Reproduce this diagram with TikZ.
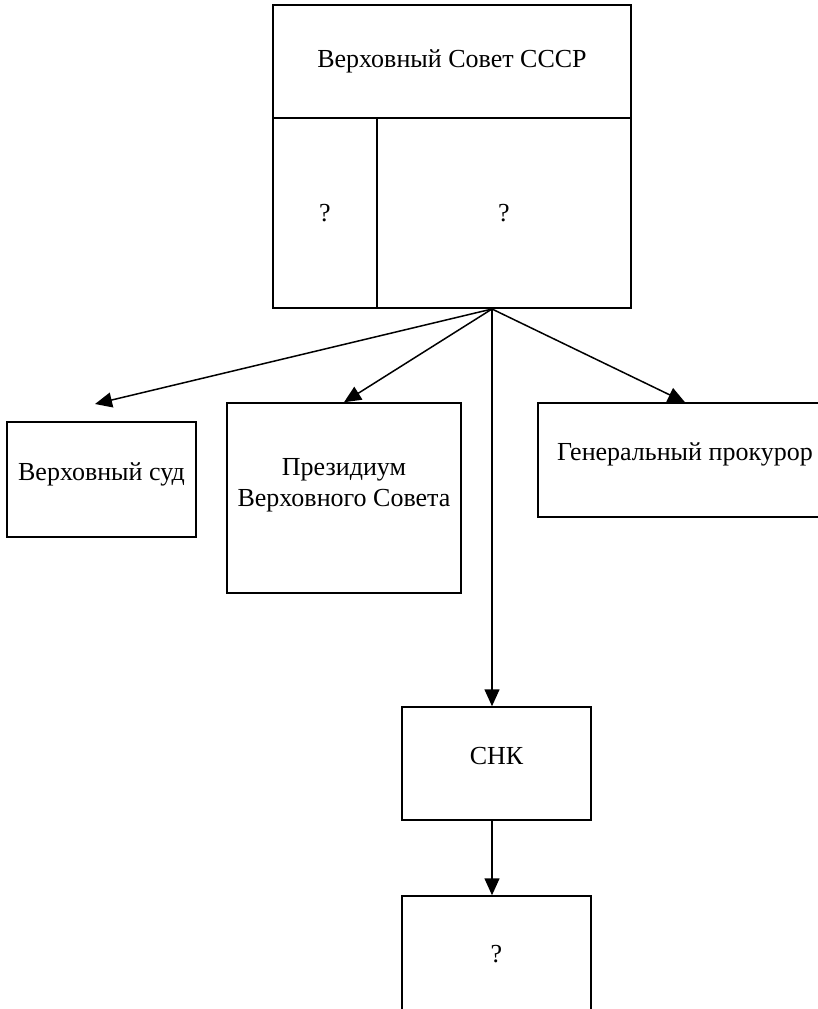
\documentclass[tikz,border=0pt]{standalone}
\usepackage{fontspec}
\setmainfont{Liberation Serif}
\usetikzlibrary{arrows.meta}

\begin{document}
\begin{tikzpicture}[x=1pt,y=-1pt,line width=1.5pt,
  box/.style={draw, rectangle, inner sep=0pt, align=center, font=\fontsize{26}{31}\selectfont},
  lift/.style={text depth=#1},
  >={Triangle[length=17pt,width=15pt]}]

\useasboundingbox (0,0) rectangle (818,1009);
\clip (0,0) rectangle (818,1009);

\node[box, minimum width=358pt, minimum height=113pt] (sovet) at (452, 61.5) {Верховный Совет СССР};
\node[box, minimum width=104pt, minimum height=190pt] (levo) at (325, 213) {?};
\node[box, minimum width=254pt, minimum height=190pt] (pravo) at (504, 213) {?};

\coordinate (hub) at (492, 309);
\coordinate (sudtip) at (95, 404);

\node[box, lift=16pt, minimum width=189pt, minimum height=115pt] (sud) at (101.5, 479.5) {Верховный суд};
\node[box, lift=32pt, minimum width=234pt, minimum height=190pt] (prez) at (344, 498) {Президиум\\Верховного Совета};
\node[box, lift=16pt, minimum width=294pt, minimum height=114pt] (prok) at (685, 460) {Генеральный прокурор};

\node[box, lift=16pt, minimum width=189pt, minimum height=113pt] (snk) at (496.5, 763.5) {СНК};
\node[box, minimum width=189pt, minimum height=116pt] (niz) at (496.5, 954) {?};

\draw[->] (hub) -- (sudtip) ;
\draw[->] (hub) -- (prez.north) ;
\draw[->] (hub) -- (prok.north) ;
\draw[->] (hub) -- (hub |- snk.north) ;
\draw[->] (snk.south -| hub) -- (hub |- niz.north) ;

\end{tikzpicture}
\end{document}
